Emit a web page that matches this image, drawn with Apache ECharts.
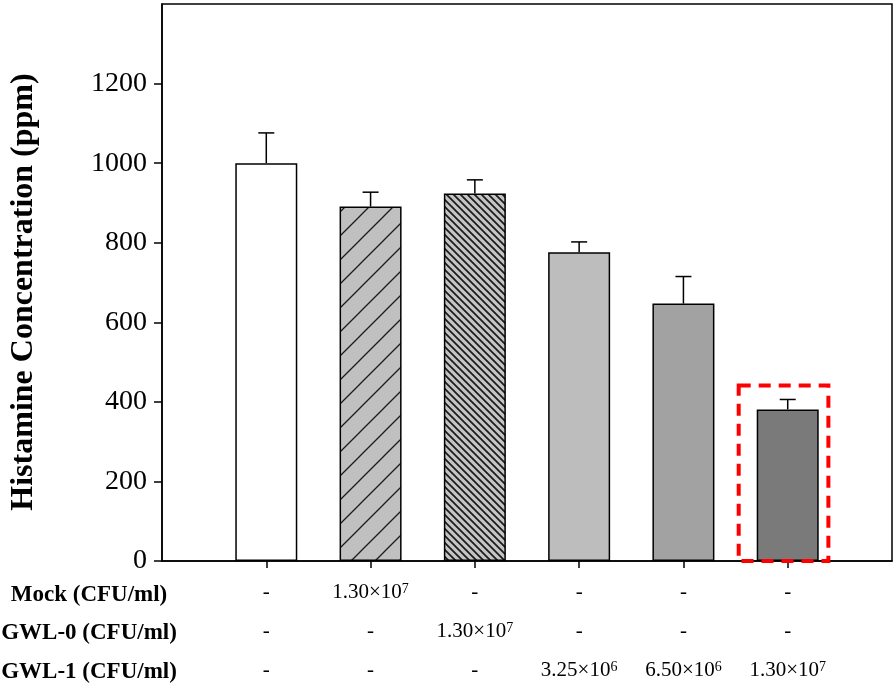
<!DOCTYPE html>
<html><head><meta charset="utf-8">
<script src="https://cdn.jsdelivr.net/npm/echarts@6/dist/echarts.min.js"></script>
<style>html,body{margin:0;padding:0;background:#fff}#c{width:894px;height:687px}</style>
</head><body><div id="c"></div>
<script>
// ---- data ----
const yTitle = 'Histamine Concentration (ppm)';
const rowTitles = ['Mock (CFU/ml)', 'GWL-0 (CFU/ml)', 'GWL-1 (CFU/ml)'];
const mockRow = ['-', '1.30×10^7', '-', '-', '-', '-'];
const gwl0Row = ['-', '-', '1.30×10^7', '-', '-', '-'];
const gwl1Row = ['-', '-', '-', '3.25×10^6', '6.50×10^6', '1.30×10^7'];
const values = [1000, 891, 924, 776, 647, 381];
const errorUp = [76, 36, 34, 26, 68, 25];
const yTicks = [0, 200, 400, 600, 800, 1000, 1200];
const yMin = 0, yMax = 1400, yStep = 200;
const highlightBox = { xFrom: 5.53, xTo: 6.39, yTop: 441 };

// ---- styles ----
const FONT = "'Liberation Serif','Times New Roman',serif";
function hatch(size, bg, dir, lw) {
  const c = document.createElement('canvas');
  c.width = size; c.height = size;
  const g = c.getContext('2d');
  g.fillStyle = bg; g.fillRect(0, 0, size, size);
  g.strokeStyle = '#1a1a1a'; g.lineWidth = lw;
  g.beginPath();
  for (let k = -1; k <= 1; k++) {
    if (dir === '/') { g.moveTo(k * size - 2, size + 2); g.lineTo(k * size + size + 2, -2); }
    else { g.moveTo(k * size - 2, -2); g.lineTo(k * size + size + 2, size + 2); }
  }
  g.stroke();
  return { image: c, repeat: 'repeat' };
}
const barFills = [
  '#ffffff',
  hatch(24, '#c0c0c0', '/', 1.3),
  hatch(7, '#c4c4c4', '\\', 1.7),
  '#bdbdbd',
  '#a2a2a2',
  '#7a7a7a'
];

const nCat = values.length + 2;
const cats = Array.from({ length: nCat }, (_, i) => String(i));

function fmtCell(s) {
  if (s.indexOf('^') >= 0) {
    const p = s.split('^');
    return '{n|' + p[0] + '}{sup|' + p[1] + '}';
  }
  return '{n|' + s + '}';
}

const chart = echarts.init(document.getElementById('c'), null, { renderer: 'canvas' });
chart.setOption({
  animation: false,
  backgroundColor: '#fff',
  grid: { left: 162, right: 2, top: 4, bottom: 126, containLabel: false, outerBoundsMode: 'none',
          show: true, borderColor: '#000', borderWidth: 1.5, backgroundColor: 'transparent' },
  xAxis: {
    type: 'category',
    data: cats,
    boundaryGap: false,
    axisLine: { lineStyle: { color: '#000', width: 1.5 } },
    axisTick: { length: 7, lineStyle: { color: '#000', width: 1.5 }, interval: (i) => i >= 1 && i <= values.length },
    axisLabel: {
      interval: 0,
      margin: 12,
      formatter: (v, i) => {
        if (i < 1 || i > values.length) return '';
        const k = i - 1;
        return [mockRow[k], gwl0Row[k], gwl1Row[k]].map(fmtCell).join('\n');
      },
      rich: {
        n: { fontFamily: FONT, fontSize: 21, color: '#000', lineHeight: 39 },
        sup: { fontFamily: FONT, fontSize: 14, color: '#000', lineHeight: 16, verticalAlign: 'top', padding: [9, 0, 0, 0] }
      }
    },
    splitLine: { show: false }
  },
  yAxis: {
    type: 'value',
    min: yMin, max: yMax, interval: yStep,
    axisLine: { show: true, lineStyle: { color: '#000', width: 1.5 } },
    axisTick: { show: true, length: 8, customValues: yTicks, lineStyle: { color: '#000', width: 1.5 } },
    axisLabel: { fontFamily: FONT, fontSize: 28, color: '#000', margin: 15, customValues: yTicks,
                 formatter: (v) => v >= yMax ? '' : String(v) },
    splitLine: { show: false }
  },
  graphic: rowTitles.map((t, i) => ({
    type: 'text',
    x: 89, y: 595 + i * 38.5,
    style: { text: t, fontFamily: FONT, fontSize: 23, fontWeight: 'bold', fill: '#000', textAlign: 'center', textVerticalAlign: 'middle' }
  })).concat([{
    type: 'text',
    x: 24, y: 292, rotation: Math.PI / 2,
    style: { text: yTitle, fontFamily: FONT, fontSize: 32, fontWeight: 'bold', fill: '#000', textAlign: 'center', textVerticalAlign: 'middle' }
  }]),
  series: [
    {
      type: 'bar',
      barWidth: 62,
      data: ['-'].concat(values.map((v, i) => ({ value: v, itemStyle: { color: barFills[i] } }))).concat(['-']),
      itemStyle: { borderColor: '#000', borderWidth: 1.5 },
      z: 2
    },
    {
      type: 'custom',
      data: values.map((v, i) => [i + 1, v, v + errorUp[i]]),
      encode: { x: 0, y: [1, 2] },
      z: 3,
      renderItem: (params, api) => {
        const b = api.coord([api.value(0), api.value(1)]);
        const t = api.coord([api.value(0), api.value(2)]);
        const st = { stroke: '#000', lineWidth: 1.5 };
        return { type: 'group', children: [
          { type: 'line', shape: { x1: b[0], y1: b[1], x2: t[0], y2: t[1] }, style: st },
          { type: 'line', shape: { x1: t[0] - 8, y1: t[1], x2: t[0] + 8, y2: t[1] }, style: st }
        ] };
      }
    },
    {
      type: 'custom',
      data: [[Math.round(highlightBox.xTo), highlightBox.yTop]],
      z: 5,
      clip: false,
      renderItem: (params, api) => {
        const a = api.coord([values.length - 1, yMin]);
        const b = api.coord([values.length, highlightBox.yTop]);
        const unit = b[0] - a[0];
        const x1 = b[0] + (highlightBox.xFrom - values.length) * unit;
        const x2 = b[0] + (highlightBox.xTo - values.length) * unit;
        return { type: 'rect', shape: { x: x1, y: b[1], width: x2 - x1, height: a[1] - b[1] },
          style: { fill: 'none', stroke: '#ff0000', lineWidth: 4, lineDash: [12, 8] } };
      }
    }
  ]
});
</script></body></html>
